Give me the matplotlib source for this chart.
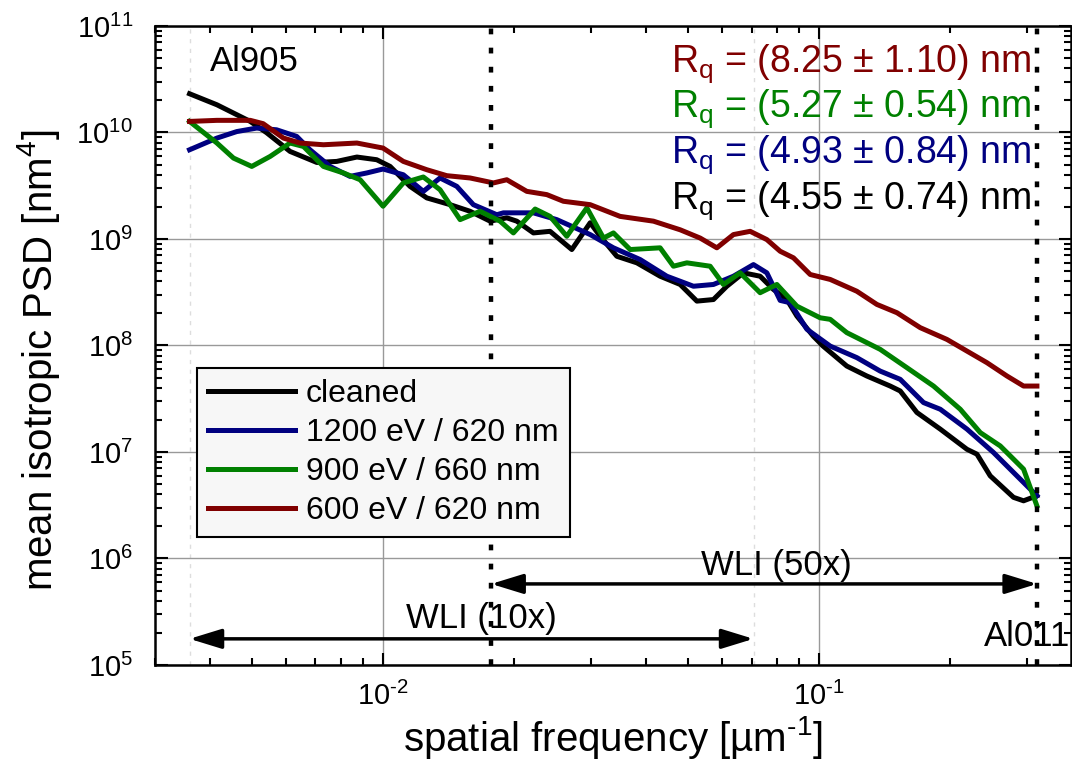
import matplotlib
matplotlib.use("Agg")
import matplotlib.pyplot as plt
from matplotlib.ticker import FuncFormatter
import numpy as np

plt.rcParams['font.family'] = ['Liberation Sans', 'DejaVu Sans']
plt.rcParams['mathtext.fontset'] = 'custom'
plt.rcParams['mathtext.rm'] = 'Liberation Sans'
plt.rcParams['axes.unicode_minus'] = False

# PSD curves (spatial frequency in 1/um, PSD in nm^4)
f_clean = [0.0036, 0.00416, 0.00496, 0.00541, 0.00612, 0.00705, 0.00783, 0.00871, 0.00967, 0.01038,
           0.01153, 0.0126, 0.01425, 0.01583, 0.0176, 0.01922, 0.02026, 0.02212, 0.02415, 0.02709,
           0.02985, 0.03147, 0.03436, 0.03819, 0.04318, 0.048, 0.05243, 0.05722, 0.06141, 0.06705,
           0.07321, 0.07855, 0.08431, 0.0889, 0.097, 0.102, 0.1157, 0.1286, 0.1455, 0.1534,
           0.1675, 0.1895, 0.2182, 0.23, 0.2467, 0.279, 0.2942, 0.3157]
psd_clean = [2.31e10, 1.82e10, 1.27e10, 9.94e9, 6.64e9, 5.23e9, 5.35e9, 5.88e9, 5.55e9, 4.8e9,
             3.12e9, 2.43e9, 2.1e9, 1.82e9, 1.47e9, 1.58e9, 1.47e9, 1.14e9, 1.18e9, 7.96e8,
             1.42e9, 1.06e9, 6.88e8, 5.97e8, 4.47e8, 3.74e8, 2.61e8, 2.7e8, 3.6e8, 4.81e8,
             4.47e8, 3.36e8, 2.7e8, 1.89e8, 1.22e8, 9.9e7, 6.41e7, 5.17e7, 4.16e7, 3.74e7,
             2.35e7, 1.64e7, 1.06e7, 9.54e6, 5.97e6, 3.75e6, 3.48e6, 3.88e6]

f_1200 = [0.0036, 0.00416, 0.00462, 0.00513, 0.0057, 0.00634, 0.0068, 0.00756, 0.0084, 0.00918,
          0.01, 0.01113, 0.01237, 0.01351, 0.01476, 0.01611, 0.01823, 0.01888, 0.02212, 0.02502,
          0.02985, 0.03375, 0.03886, 0.04474, 0.05149, 0.05722, 0.06359, 0.07068, 0.07586, 0.08139,
          0.0858, 0.09372, 0.106, 0.122, 0.138, 0.1534, 0.1735, 0.1895, 0.2182, 0.251,
          0.279, 0.3157]
psd_1200 = [6.88e9, 8.86e9, 1.02e10, 1.1e10, 1.06e10, 9.18e9, 6.88e9, 4.8e9, 3.87e9, 4.17e9,
            4.54e9, 4.01e9, 2.8e9, 3.74e9, 3.12e9, 2.1e9, 1.69e9, 1.76e9, 1.76e9, 1.52e9,
            1.1e9, 8.26e8, 6.41e8, 4.47e8, 3.6e8, 3.74e8, 4.47e8, 5.75e8, 4.81e8, 2.65e8,
            2.52e8, 1.42e8, 9.87e7, 7.69e7, 5.75e7, 4.81e7, 2.91e7, 2.52e7, 1.64e7, 9.89e6,
            6.42e6, 3.88e6]

f_900 = [0.0036, 0.00416, 0.00454, 0.005, 0.00551, 0.00612, 0.00657, 0.0073, 0.00811, 0.00886,
         0.01, 0.01113, 0.01237, 0.01351, 0.01502, 0.01669, 0.01855, 0.0199, 0.02232, 0.02415,
         0.02638, 0.02933, 0.03202, 0.03375, 0.03686, 0.04318, 0.04633, 0.04973, 0.05623, 0.06032,
         0.06589, 0.07321, 0.07998, 0.0889, 0.1005, 0.106, 0.1157, 0.138, 0.1589, 0.1829,
         0.2106, 0.2341, 0.2601, 0.2942, 0.3157]
psd_900 = [1.27e10, 7.96e9, 5.75e9, 4.8e9, 5.96e9, 7.96e9, 7.39e9, 4.8e9, 4.17e9, 3.6e9,
           2.03e9, 3.36e9, 3.82e9, 2.9e9, 1.52e9, 1.82e9, 1.47e9, 1.14e9, 1.91e9, 1.63e9,
           1.06e9, 1.96e9, 1.02e9, 1.14e9, 7.96e8, 8.26e8, 5.55e8, 5.97e8, 5.55e8, 3.74e8,
           4.81e8, 3.13e8, 3.74e8, 2.34e8, 1.82e8, 1.76e8, 1.32e8, 9.2e7, 6.19e7, 4.16e7,
           2.52e7, 1.52e7, 1.14e7, 6.9e6, 3.12e6]

f_600 = [0.0036, 0.00416, 0.00496, 0.00531, 0.00591, 0.00645, 0.0073, 0.00871, 0.01, 0.01113,
         0.0126, 0.014, 0.01583, 0.01791, 0.01922, 0.02136, 0.02374, 0.02591, 0.02985, 0.03496,
         0.04169, 0.048, 0.05335, 0.05826, 0.06359, 0.06946, 0.07586, 0.08139, 0.08732, 0.09537,
         0.106, 0.122, 0.1356, 0.1508, 0.1705, 0.1963, 0.2182, 0.2424, 0.2695, 0.2942,
         0.3157]
psd_600 = [1.27e10, 1.3e10, 1.3e10, 1.21e10, 8.86e9, 7.96e9, 7.67e9, 7.96e9, 7.14e9, 5.35e9,
           4.47e9, 3.93e9, 3.74e9, 3.36e9, 3.6e9, 2.8e9, 2.61e9, 2.26e9, 2.1e9, 1.63e9,
           1.47e9, 1.22e9, 1.02e9, 8.26e8, 1.1e9, 1.18e9, 9.87e8, 7.67e8, 6.65e8, 4.64e8,
           4.17e8, 3.23e8, 2.43e8, 2.03e8, 1.47e8, 1.14e8, 8.86e7, 6.9e7, 5.17e7, 4.16e7,
           4.16e7]

labels = ["cleaned", "1200 eV / 620 nm", "900 eV / 660 nm", "600 eV / 620 nm"]
colors = ["black", "#000080", "#008000", "#800000"]
rq_texts = [r"R$_\mathregular{q}$ = (8.25 ± 1.10) nm",
            r"R$_\mathregular{q}$ = (5.27 ± 0.54) nm",
            r"R$_\mathregular{q}$ = (4.93 ± 0.84) nm",
            r"R$_\mathregular{q}$ = (4.55 ± 0.74) nm"]
rq_colors = ["#800000", "#008000", "#000080", "black"]

x_major = [1e-2, 1e-1]
y_major = [1e5, 1e6, 1e7, 1e8, 1e9, 1e10, 1e11]

# measurement ranges of the two WLI objectives
wli10 = (0.0036, 0.0707)
wli50 = (0.0177, 0.316)
arrow_y10 = 1.76e5
arrow_y50 = 5.77e5


def log_fmt(v, pos):
    # 10^n with a plain hyphen, like the original
    e = int(round(np.log10(v)))
    s = str(e).replace('-', r'\text{-}')
    return r'$\mathregular{10^{%s}}$' % s


fig = plt.figure(figsize=(10.72, 7.71), dpi=100)
ax = fig.add_axes([0.1446, 0.1375, 0.8545, 0.8288])

curves = [(f_clean, psd_clean), (f_1200, psd_1200), (f_900, psd_900), (f_600, psd_600)]
for (f, p), lab, c in zip(curves, labels, colors):
    ax.plot(f, p, color=c, lw=3.6, label=lab, solid_joinstyle='round', zorder=3)

ax.set_xscale('log')
ax.set_yscale('log')
ax.set_xticks(x_major)
ax.set_yticks(y_major)
ax.set_xlim(0.003, 0.378)
ax.set_ylim(1e5, 1e11)
ax.xaxis.set_major_formatter(FuncFormatter(log_fmt))
ax.yaxis.set_major_formatter(FuncFormatter(log_fmt))

ax.grid(True, which='major', color='#999999', lw=1.0, zorder=0)

# faint bounds of the 10x range
for xv in wli10:
    ax.axvline(xv, color='#dddddd', lw=1.0, ls=(0, (3, 4)), zorder=1)

# dotted bounds of the 50x range
for xv in wli50:
    ax.axvline(xv, color='black', lw=3.2, ls=(0, (1.3, 3.0)), zorder=4)

for (x0, x1), yv in [(wli50, arrow_y50), (wli10, arrow_y10)]:
    ax.annotate('', xy=(x1, yv), xytext=(x0, yv),
                arrowprops=dict(arrowstyle='<|-|>,head_length=0.65,head_width=0.2', color='black',
                                lw=2.5, mutation_scale=30, shrinkA=0, shrinkB=0))

ax.text(0.678, 0.156, "WLI (50x)", transform=ax.transAxes, ha='center', va='center', fontsize=25)
ax.text(0.356, 0.072, "WLI (10x)", transform=ax.transAxes, ha='center', va='center', fontsize=25)
ax.text(0.06, 0.945, "Al905", transform=ax.transAxes, ha='left', va='center', fontsize=25)
ax.text(0.999, 0.045, "Al011", transform=ax.transAxes, ha='right', va='center', fontsize=25)

rq_y = [0.928, 0.858, 0.786, 0.714]
for t, c, yy in zip(rq_texts, rq_colors, rq_y):
    ax.text(0.957, yy, t, transform=ax.transAxes, ha='right', va='baseline', fontsize=27, color=c)

leg = ax.legend(loc='upper left', bbox_to_anchor=(0.046, 0.465), fontsize=23, frameon=True,
                fancybox=False, edgecolor='black', facecolor='#f7f7f7', framealpha=1,
                handlelength=2.7, handletextpad=0.35, labelspacing=0.28, borderpad=0.35,
                borderaxespad=0)
leg.get_frame().set_linewidth(1.5)

ax.set_xlabel(r"spatial frequency [µm$^{\text{-}\mathregular{1}}$]", fontsize=29, labelpad=2)
ax.set_ylabel(r"mean isotropic PSD [nm$^\mathregular{4}$]", fontsize=29)
ax.yaxis.set_label_coords(-0.102, 0.477)

ax.tick_params(which='both', direction='in', top=True, right=True, labelsize=21, width=1.5)
ax.tick_params(which='major', length=9)
ax.tick_params(axis='x', which='major', pad=12)
ax.tick_params(axis='y', which='major', pad=16)
ax.tick_params(which='minor', length=5)
for s in ax.spines.values():
    s.set_linewidth(1.8)

fig.savefig("out.png", dpi=100)
